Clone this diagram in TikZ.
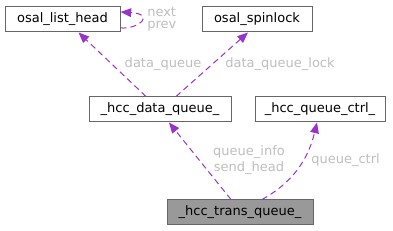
\documentclass[tikz,border=0pt]{standalone}
\usepackage{fontspec}
\setmainfont{DejaVu Sans}
\usetikzlibrary{arrows.meta,calc}
\definecolor{edgecol}{HTML}{9A32CD}
\definecolor{boxline}{HTML}{666666}
\definecolor{lblcol}{HTML}{BEBEBE}
\definecolor{hlfill}{HTML}{999999}
\begin{document}
\begin{tikzpicture}[x=0.75pt,y=-0.75pt,
  box/.style={draw=boxline,line width=0.75pt,fill=white,inner sep=0pt,minimum height=18.75pt,font=\fontsize{9.75}{11}\selectfont},
  hlbox/.style={box,fill=hlfill},
  edge/.style={draw=edgecol,line width=0.75pt,dash pattern=on 4.5pt off 3pt,-{Triangle[length=8pt,width=6.5pt,fill=edgecol]}},
  lbl/.style={text=lblcol,inner sep=0pt,font=\fontsize{9.75}{11.5}\selectfont,align=center}]
\useasboundingbox (0,0) rectangle (393,231);
\node[box,minimum width=86.25pt] (olh) at (62.5,19.5) {osal\_list\_head};
\node[box,minimum width=82.5pt] (os) at (257,19.5) {osal\_spinlock};
\node[box,minimum width=106.5pt] (dq) at (160,109.5) {\_hcc\_data\_queue\_};
\node[box,minimum width=97.5pt] (qc) at (320,109.5) {\_hcc\_queue\_ctrl\_};
\node[hlbox,minimum width=109.5pt] (tq) at (240,212.5) {\_hcc\_trans\_queue\_};
% edges
\draw[edge] ($(tq.north)+(-9,0)$) -- ($(dq.south)+(9,0)$);
\draw[edge] ($(tq.north)+(22,0)$) .. controls (292,183) and (308,160) .. ($(qc.south)+(-3,0)$);
\draw[edge] ($(dq.north)+(-14,0)$) -- ($(olh.south)+(16,0)$);
\draw[edge] ($(dq.north)+(16,0)$) -- ($(os.south)+(-9,0)$);
\draw[edge] ($(olh.east)+(0,8.5)$) .. controls (140,29) and (155,14) .. ($(olh.east)+(0,-7.5)$);
% labels
\node[lbl,anchor=west] (lnext) at (147,12) {next};
\node[lbl,anchor=west] (lprev) at (147,26) {prev};
\node[lbl] (ldq) at (163,64.5) {data\_queue};
\node[lbl] (ldql) at (280,64.5) {data\_queue\_lock};
\node[lbl] (lqi) at (249,160) {queue\_info\\send\_head};
\node[lbl] (lqc) at (345.5,160) {queue\_ctrl};
\end{tikzpicture}
\end{document}
